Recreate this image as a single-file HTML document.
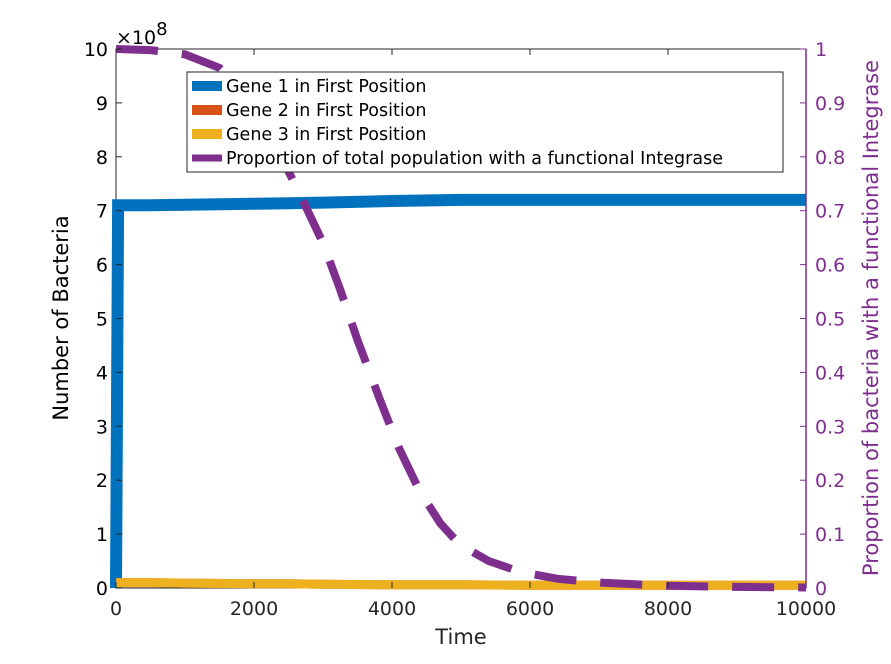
<!DOCTYPE html>
<html><head><meta charset="utf-8"><style>
body{margin:0;background:#fff;}
svg text{font-family:"DejaVu Sans","Liberation Sans",sans-serif;}
</style></head><body>
<svg id="chart" width="891" height="659" xmlns="http://www.w3.org/2000/svg">
<rect width="891" height="659" fill="#fff"/>
<g id="plot"></g>
</svg>
<script>
const timePoints=[0,30,500,1000,2000,2500,3000,4000,5000,6000,7000,8000,9000,10000];
const gene1=[0,7.1,7.1,7.11,7.13,7.14,7.15,7.18,7.2,7.2,7.2,7.2,7.2,7.2];
const gene2=[0.1,0.1,0.1,0.09,0.08,0.08,0.07,0.06,0.06,0.05,0.05,0.05,0.05,0.05];
const gene3=[0.1,0.1,0.1,0.09,0.08,0.08,0.07,0.06,0.06,0.05,0.05,0.05,0.05,0.05];
const propTime=[0,500,1000,1500,1800,2200,2667,3000,3250,3500,3826,4100,4400,4700,4985,5400,5855,6400,7014,8000,9000,10000];
const proportion=[1,0.998,0.99,0.965,0.924,0.85,0.73,0.64,0.553,0.46,0.349,0.26,0.18,0.12,0.08,0.05,0.03,0.017,0.01,0.004,0.002,0.001];
const xTicks=[0,2000,4000,6000,8000,10000];
const yTicks=[0,1,2,3,4,5,6,7,8,9,10];
const y2Ticks=[0,0.1,0.2,0.3,0.4,0.5,0.6,0.7,0.8,0.9,1];
const L=116,R=806,T=49,B=588;
const xs=t=>L+t/10000*(R-L);
const ys=v=>B-v/10*(B-T);
const y2s=v=>B-v*(B-T);
const NS="http://www.w3.org/2000/svg";
const g=document.getElementById('plot');
function mk(tag,attrs,parent){const e=document.createElementNS(NS,tag);for(const k in attrs)e.setAttribute(k,attrs[k]);(parent||g).appendChild(e);return e;}
function pts(xa,ya,f){return xa.map((t,i)=>xs(t).toFixed(1)+','+f(ya[i]).toFixed(1)).join(' ');}
let e=mk('rect',{x:L,y:T,width:R-L,height:B-T,fill:'none',stroke:'#262626','stroke-width':1});


e=mk('polyline',{points:pts(timePoints,gene1,ys),fill:'none',stroke:'#0072bd','stroke-width':12,'stroke-linejoin':'miter'});


e=mk('polyline',{points:pts(timePoints,gene2,ys),fill:'none',stroke:'#d95319','stroke-width':9});


e=mk('polyline',{points:pts(timePoints,gene3,ys),fill:'none',stroke:'#edb120','stroke-width':9});


e=mk('polyline',{points:pts(propTime,proportion,y2s),fill:'none',stroke:'#7e2f8e','stroke-width':8,'stroke-dasharray':'42 24'});


xTicks.forEach(t=>{
 mk('line',{x1:xs(t),x2:xs(t),y1:B,y2:B-6,stroke:'#262626'});
 mk('line',{x1:xs(t),x2:xs(t),y1:T,y2:T+6,stroke:'#262626'});
 const tx=mk('text',{x:xs(t),y:B+27,'text-anchor':'middle','font-size':19,fill:'#262626'});tx.textContent=t;
 
 
});
yTicks.forEach(v=>{
 mk('line',{x1:L,x2:L+6,y1:ys(v),y2:ys(v),stroke:'#262626'});
 const tx=mk('text',{x:L-8,y:ys(v)+7,'text-anchor':'end','font-size':19,fill:'#000'});tx.textContent=v;
 
 
});
mk('line',{x1:R,x2:R,y1:T,y2:B,stroke:'#7e2f8e','stroke-width':1.5});
y2Ticks.forEach(v=>{
 mk('line',{x1:R,x2:R-6,y1:y2s(v),y2:y2s(v),stroke:'#7e2f8e'});
 const tx=mk('text',{x:R+9,y:y2s(v)+7,'font-size':19,fill:'#7e2f8e'});tx.textContent=v;
 
 
});
</script>
<svg style="position:absolute;left:0;top:0" width="891" height="659" xmlns="http://www.w3.org/2000/svg">
<text x="116" y="44" font-size="19" fill="#000">×10<tspan dy="-9" font-size="18">8</tspan></text>
<text x="461" y="644" font-size="21" fill="#262626" text-anchor="middle">Time</text>
<text transform="translate(68,318) rotate(-90)" font-size="21" fill="#000" text-anchor="middle">Number of Bacteria</text>
<text transform="translate(878,318) rotate(-90)" font-size="21" fill="#7e2f8e" text-anchor="middle">Proportion of bacteria with a functional Integrase</text>
<g>
<rect x="187" y="72" width="596" height="100" fill="#fff" stroke="#262626" stroke-width="1"/>
<line x1="192" x2="222" y1="86" y2="86" stroke="#0072bd" stroke-width="10"/>
<text x="226" y="92" font-size="17.5">Gene 1 in First Position</text>
<line x1="192" x2="222" y1="110" y2="110" stroke="#d95319" stroke-width="10"/>
<text x="226" y="116" font-size="17.5">Gene 2 in First Position</text>
<line x1="192" x2="222" y1="134" y2="134" stroke="#edb120" stroke-width="10"/>
<text x="226" y="140" font-size="17.5">Gene 3 in First Position</text>
<line x1="192" x2="222" y1="158" y2="158" stroke="#7e2f8e" stroke-width="7"/>
<text x="226" y="164" font-size="17.5">Proportion of total population with a functional Integrase</text>
</g>
</svg>
</body></html>
